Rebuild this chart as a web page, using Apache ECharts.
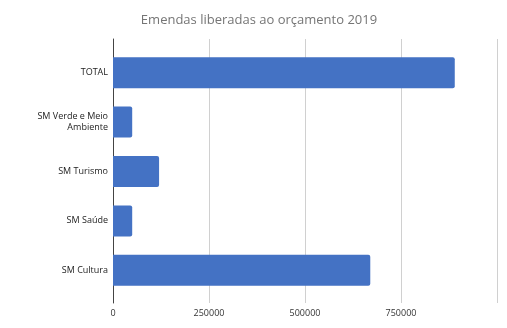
<!DOCTYPE html>
<html><head><meta charset="utf-8">
<script src="https://cdn.jsdelivr.net/npm/echarts@6/dist/echarts.min.js"></script>
<style>html,body{margin:0;padding:0;background:#fff}#c{width:507px;height:328px}</style>
</head><body><div id="c"></div>
<script>
const categories = ["TOTAL", "SM Verde e Meio\nAmbiente", "SM Turismo", "SM Saúde", "SM Cultura"];
const values = [890000, 50000, 120000, 50000, 670000];
const tickLabels = ["0", "250000", "500000", "750000", ""];

const chart = echarts.init(document.getElementById('c'), null, {renderer: 'canvas'});
const font = "'Open Sans', 'Noto Sans', sans-serif";
chart.setOption({
  animation: false,
  title: {
    text: "Emendas liberadas ao orçamento 2019",
    left: 254, textAlign: 'center', top: 9,
    textStyle: {fontFamily: font, fontSize: 13, fontWeight: 'normal', color: '#757575'}
  },
  grid: [
    {left: 113, right: 10, top: 48, bottom: 33},
    {left: 113, right: 10, top: 39, bottom: 25}
  ],
  xAxis: [
    {gridIndex: 0, type: 'value', min: 0, max: 1000000, interval: 250000,
     axisLine: {show: false}, axisTick: {show: false}, axisLabel: {show: false}, splitLine: {show: false}},
    {gridIndex: 1, type: 'value', min: 0, max: 1000000, interval: 250000,
     axisLine: {show: false}, axisTick: {show: false},
     axisLabel: {fontFamily: font, fontSize: 9, color: '#333', margin: 6,
       formatter: function(v){ return tickLabels[Math.round(v/250000)]; }},
     splitLine: {show: true, lineStyle: {color: '#d0d0d0', width: 1}}}
  ],
  yAxis: [
    {gridIndex: 0, type: 'category', data: categories, inverse: true,
     axisLine: {show: false}, axisTick: {show: false},
     axisLabel: {fontFamily: font, fontSize: 9, color: '#222', margin: 5, lineHeight: 11, align: 'right'}},
    {gridIndex: 1, type: 'category', data: [],
     axisLine: {show: true, lineStyle: {color: '#444', width: 1}}, axisTick: {show: false}, axisLabel: {show: false}}
  ],
  series: [{
    type: 'bar', xAxisIndex: 0, yAxisIndex: 0,
    data: values, barWidth: 31,
    itemStyle: {color: '#4472c4', borderRadius: [0, 2, 2, 0]}
  }]
});
</script></body></html>
